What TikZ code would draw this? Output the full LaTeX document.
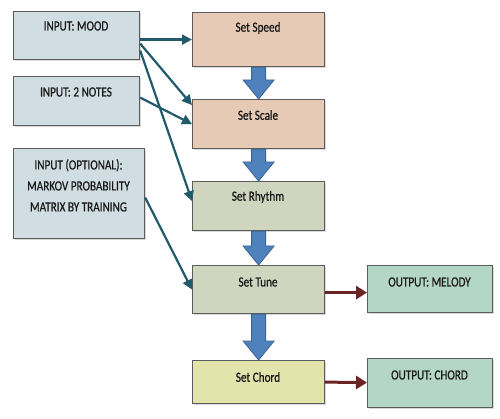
\documentclass[tikz,border=0pt]{standalone}
\usepackage{fontspec}
\setmainfont{Carlito}[FakeStretch=0.8,FakeBold=0.6]
\usetikzlibrary{arrows.meta,calc,shadows}
\definecolor{inbg}{HTML}{D0DDE2}
\definecolor{peach}{HTML}{E6CAB6}
\definecolor{sage}{HTML}{D0D5BF}
\definecolor{pale}{HTML}{E3E3AC}
\definecolor{mint}{HTML}{B4D6C6}
\definecolor{teal}{HTML}{215A6B}
\definecolor{maroon}{HTML}{6B2424}
\definecolor{bluef}{HTML}{4F81BD}
\definecolor{blued}{HTML}{3A6696}
\definecolor{edge}{HTML}{5C5C5C}
\tikzset{
  box/.style={draw=edge, line width=1.2pt, rectangle, inner sep=0pt, anchor=north west,
    drop shadow={shadow xshift=1.2pt, shadow yshift=-1.2pt, fill=black!25, opacity=0.6}},
  lbl/.style={font=\fontsize{14}{21}\selectfont, inner sep=0pt, align=center, text=black!90},
  tealarrow/.style={draw=teal, line width=2.2pt, -{Triangle[length=10pt,width=10pt]}},
  redarrow/.style={draw=maroon, line width=3pt, -{Triangle[length=11pt,width=13pt]}},
  blockarrow/.style={fill=bluef, draw=blued, line width=0.8pt, line join=miter},
}
\newcommand{\blockarr}[2]{%
  \path[blockarrow] ($(#1.south)+(-7,0)$) -- ($(#2.north)+(-7,-19)$) -- ($(#2.north)+(-15.5,-19)$)
    -- (#2.north) -- ($(#2.north)+(15.5,-19)$) -- ($(#2.north)+(7,-19)$) -- ($(#1.south)+(7,0)$) -- cycle;}
\begin{document}
\begin{tikzpicture}[x=1pt,y=-1pt]
\useasboundingbox (0,0) rectangle (500,419);
% input boxes
\node[box, fill=inbg, minimum width=126pt, minimum height=48pt] (mood) at (13,11) {};
\node[lbl] (moodT) at (76,26) {INPUT: MOOD};
\node[box, fill=inbg, minimum width=126pt, minimum height=49pt] (notes) at (13,76) {};
\node[lbl] (notesT) at (76,92) {INPUT: 2 NOTES};
\node[box, fill=inbg, minimum width=131pt, minimum height=90pt] (opt) at (13,148) {};
\node[lbl, anchor=north] (optT) at (78.5,159) {INPUT (OPTIONAL):\\MARKOV PROBABILITY\\MATRIX BY TRAINING};
% process boxes
\node[box, fill=peach, minimum width=132pt, minimum height=54pt] (speed) at (192,12) {};
\node[lbl] (speedT) at (258,28) {Set Speed};
\node[box, fill=peach, minimum width=132pt, minimum height=49pt] (scale) at (192,99) {};
\node[lbl] (scaleT) at (258,115) {Set Scale};
\node[box, fill=sage, minimum width=132pt, minimum height=49pt] (rhythm) at (192,181) {};
\node[lbl] (rhythmT) at (258,197) {Set Rhythm};
\node[box, fill=sage, minimum width=132pt, minimum height=48pt] (tune) at (192,265) {};
\node[lbl] (tuneT) at (258,282) {Set Tune};
\node[box, fill=pale, minimum width=132pt, minimum height=43pt] (chord) at (192,360) {};
\node[lbl] (chordT) at (258,377) {Set Chord};
% outputs
\node[box, fill=mint, minimum width=125pt, minimum height=47pt] (melody) at (367,265) {};
\node[lbl] (melodyT) at (429.5,282) {OUTPUT: MELODY};
\node[box, fill=mint, minimum width=125pt, minimum height=49pt] (chordout) at (367,358) {};
\node[lbl] (chordoutT) at (429.5,375) {OUTPUT: CHORD};
% block arrows
\blockarr{speed}{scale}
\blockarr{scale}{rhythm}
\blockarr{rhythm}{tune}
\blockarr{tune}{chord}
% teal connectors
\draw[tealarrow] ([yshift=-4pt]mood.east) -- (speed.west);
\draw[tealarrow] ([yshift=-8pt]mood.east) -- ([yshift=19pt]scale.west);
\draw[tealarrow] ([yshift=-15pt]mood.east) -- ([yshift=5pt]rhythm.west);
\draw[tealarrow] ([yshift=3.5pt]notes.east) -- (scale.west);
\draw[tealarrow] ([yshift=-4pt]opt.east) -- (tune.west);
% red connectors
\draw[redarrow] ([yshift=-3pt]tune.east) -- ([yshift=-3.5pt]melody.west);
\draw[redarrow] (chord.east) -- ([yshift=0.5pt]chordout.west);
\end{tikzpicture}
\end{document}
